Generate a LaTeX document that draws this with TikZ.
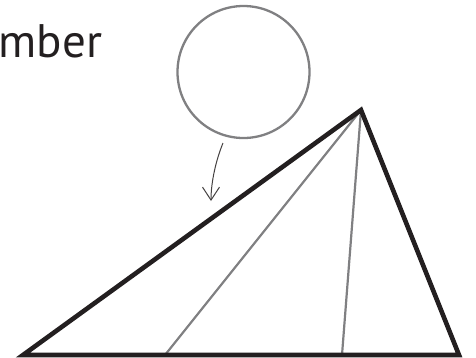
\documentclass[tikz,border=0pt]{standalone}
\usepackage{fontspec}
\setmainfont{PT Sans}
\usetikzlibrary{arrows.meta}
\definecolor{ink}{HTML}{231F20}
\definecolor{midgray}{HTML}{808082}
\tikzset{
  thickedge/.style={draw=ink,line width=4.6pt,line join=miter},
  thinedge/.style={draw=midgray,line width=2.2pt},
  ringshape/.style={circle,draw=midgray,line width=2.3pt,minimum size=132pt,inner sep=0pt},
  pointer/.style={draw=ink!85,line width=1pt,-{Straight Barb[length=13pt,width=17pt,line width=1pt]}},
  label/.style={text=ink,font=\fontsize{47}{50}\selectfont,inner sep=0pt,anchor=base west}
}
\begin{document}
\begin{tikzpicture}[x=1pt,y=-1pt]
\useasboundingbox (0,0) rectangle (476,357);
\node[label] (word) at (-1.5,57) {mber};
\node[ringshape] (ring) at (243.5,72) {};
\coordinate (A) at (23,355);
\coordinate (B) at (361,110);
\coordinate (C) at (459,355);
\coordinate (D) at (165,355);
\coordinate (E) at (342,355);
\coordinate (tip) at (211,201);
\draw[thinedge] (B) -- (D);
\draw[thinedge] (B) -- (E);
\draw[thickedge] (A) -- (B) -- (C) -- cycle;
\draw[pointer] (223,143) .. controls (216,160) and (211,182) .. (tip);
\end{tikzpicture}
\end{document}
